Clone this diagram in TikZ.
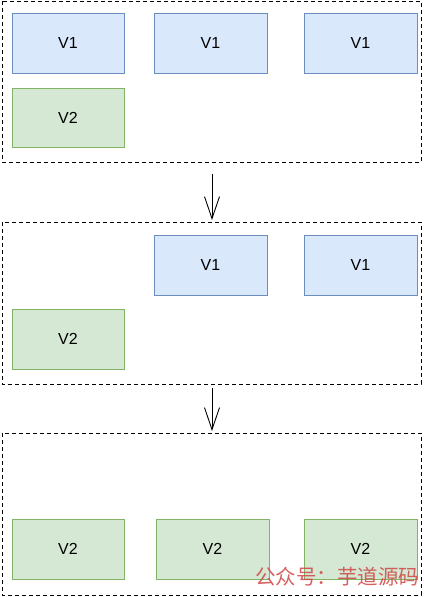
\documentclass[tikz,border=0pt]{standalone}
\usepackage{fontspec}
\setmainfont{Liberation Sans}
\newfontfamily\cjk{Noto Sans CJK SC}
\usetikzlibrary{arrows.meta}
\definecolor{vonefill}{HTML}{DAE8FC}
\definecolor{vonedraw}{HTML}{6C8EBF}
\definecolor{vtwofill}{HTML}{D5E8D4}
\definecolor{vtwodraw}{HTML}{82B366}
\definecolor{wmark}{HTML}{D04545}
\begin{document}
\begin{tikzpicture}[x=1pt,y=-1pt,
  container/.style={draw=black,line width=0.9pt,dash pattern=on 4pt off 3pt},
  vone/.style={draw=vonedraw,fill=vonefill,line width=0.8pt},
  vtwo/.style={draw=vtwodraw,fill=vtwofill,line width=0.8pt},
  lbl/.style={font=\fontsize{16}{19}\selectfont},
  flow/.style={draw=black,line width=0.9pt,-{Straight Barb[length=22pt,width=15pt,line width=0.9pt]}}]
\useasboundingbox (0,0) rectangle (425,597);
% containers
\draw[container] (2,1) rectangle (421,162);
\coordinate (c1b) at (212,162);
\draw[container] (2,222) rectangle (421,384);
\coordinate (c2t) at (212,222);
\coordinate (c2b) at (212,384);
\draw[container] (2,433) rectangle (421,595);
\coordinate (c3t) at (212,433);
% stage 1
\draw[vone] (12,13) rectangle (124,73) node[lbl,midway] (a1) {V1};
\draw[vone] (154,13) rectangle (267,73) node[lbl,midway] (a2) {V1};
\draw[vone] (304,13) rectangle (417,73) node[lbl,midway] (a3) {V1};
\draw[vtwo] (12,88) rectangle (124,147) node[lbl,midway] (a4) {V2};
% stage 2
\draw[vone] (154,235) rectangle (267,295) node[lbl,midway] (b2) {V1};
\draw[vone] (304,235) rectangle (417,295) node[lbl,midway] (b3) {V1};
\draw[vtwo] (12,309) rectangle (124,369) node[lbl,midway] (b4) {V2};
% stage 3
\draw[vtwo] (12,519) rectangle (124,579) node[lbl,midway] (d1) {V2};
\draw[vtwo] (156,519) rectangle (269,579) node[lbl,midway] (d2) {V2};
\draw[vtwo] (304,519) rectangle (417,579) node[lbl,midway] (d3) {V2};
% arrows
\draw[flow] ([yshift=-12pt]c1b) -- ([yshift=2pt]c2t);
\draw[flow] ([yshift=-4pt]c2b) -- ([yshift=2pt]c3t);
% watermark
\node[text=wmark,font=\cjk\fontsize{20.5}{22}\selectfont,inner sep=0pt,opacity=0.85] (wm) at (337,577) {公众号：芋道源码};
\end{tikzpicture}
\end{document}
